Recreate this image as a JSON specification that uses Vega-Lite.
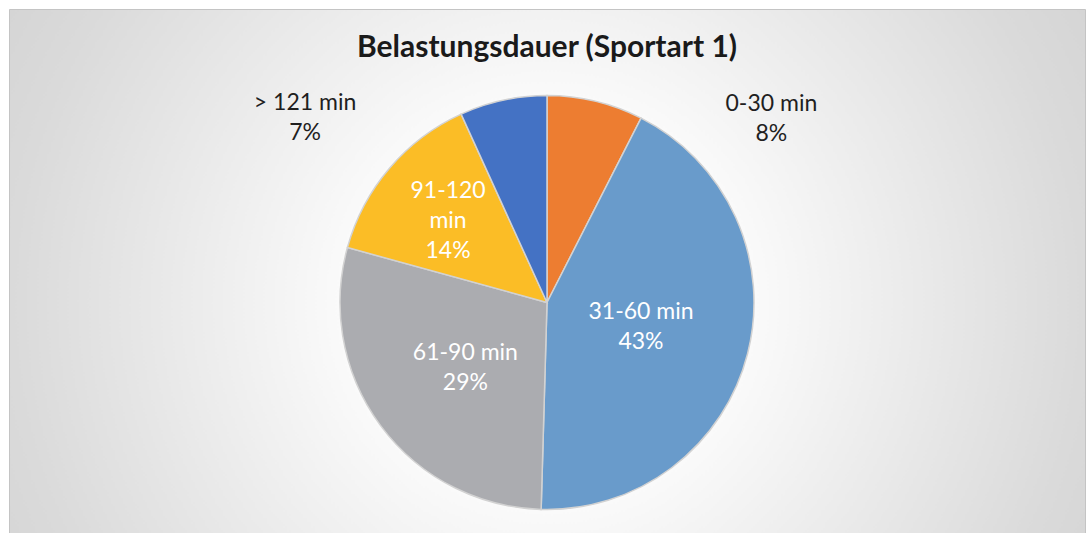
{
  "$schema": "https://vega.github.io/schema/vega-lite/v6.json",
  "autosize": {"type": "fit", "contains": "padding"},
  "width": 1088,
  "height": 533,
  "padding": {"left": 9, "top": 9, "right": 3, "bottom": -63},
  "background": "#ffffff",
  "view": {
    "stroke": "#c4c4c4",
    "strokeWidth": 1,
    "fill": {
      "gradient": "radial",
      "x1": 0.5, "y1": 0.5, "r1": 0,
      "x2": 0.5, "y2": 0.5, "r2": 0.71,
      "stops": [
        {"offset": 0, "color": "#ffffff"},
        {"offset": 0.2, "color": "#ffffff"},
        {"offset": 0.7, "color": "#dadada"},
        {"offset": 1, "color": "#cbcbcb"}
      ]
    }
  },
  "title": {
    "text": "Belastungsdauer (Sportart 1)",
    "font": "Lato",
    "fontSize": 30,
    "fontWeight": "bold",
    "color": "#1a1a1a",
    "anchor": "middle",
    "baseline": "alphabetic",
    "offset": -78
  },
  "data": {
    "values": [
      {"dauer": "0-30 min", "anteil": 7.5, "label": "0-30 min\n8%", "ord": 1},
      {"dauer": "31-60 min", "anteil": 42.9, "label": "31-60 min\n43%", "ord": 2},
      {"dauer": "61-90 min", "anteil": 28.8, "label": "61-90 min\n29%", "ord": 3},
      {"dauer": "91-120 min", "anteil": 13.9, "label": "91-120\nmin\n14%", "ord": 4},
      {"dauer": "> 121 min", "anteil": 6.8, "label": "> 121 min\n7%", "ord": 5}
    ]
  },
  "encoding": {
    "theta": {"field": "anteil", "type": "quantitative", "stack": true},
    "order": {"field": "ord", "type": "quantitative"}
  },
  "layer": [
    {
      "mark": {"type": "arc", "outerRadius": 207, "stroke": "#d2d2d2", "strokeWidth": 1.5},
      "encoding": {
        "color": {
          "field": "dauer",
          "type": "nominal",
          "scale": {
            "domain": ["0-30 min", "31-60 min", "61-90 min", "91-120 min", "> 121 min"],
            "range": ["#ED7D31", "#699BCB", "#ABACB0", "#FBBD26", "#4472C4"]
          },
          "legend": null
        }
      }
    },
    {
      "mark": {"type": "text", "radius": 97, "dy": -14, "font": "Lato", "fontSize": 23, "color": "#ffffff", "lineBreak": "\n", "lineHeight": 30, "align": "center", "baseline": "middle"},
      "encoding": {"text": {"condition": {"test": "datum.ord == 2", "field": "label", "type": "nominal"}, "value": ""}}
    },
    {
      "mark": {"type": "text", "radius": 99, "dy": -8, "dx": -2, "font": "Lato", "fontSize": 23, "color": "#ffffff", "lineBreak": "\n", "lineHeight": 30, "align": "center", "baseline": "middle"},
      "encoding": {"text": {"condition": {"test": "datum.ord == 3", "field": "label", "type": "nominal"}, "value": ""}}
    },
    {
      "mark": {"type": "text", "radius": 130, "dy": -27, "font": "Lato", "fontSize": 23, "color": "#ffffff", "lineBreak": "\n", "lineHeight": 30, "align": "center", "baseline": "middle"},
      "encoding": {"text": {"condition": {"test": "datum.ord == 4", "field": "label", "type": "nominal"}, "value": ""}}
    },
    {
      "mark": {"type": "text", "radius": 207, "dx": 176, "dy": 3, "font": "Lato", "fontSize": 23, "color": "#1f1f1f", "lineBreak": "\n", "lineHeight": 30, "align": "center", "baseline": "middle"},
      "encoding": {"text": {"condition": {"test": "datum.ord == 1", "field": "label", "type": "nominal"}, "value": ""}}
    },
    {
      "mark": {"type": "text", "radius": 207, "dx": -198, "dy": 3, "font": "Lato", "fontSize": 23, "color": "#1f1f1f", "lineBreak": "\n", "lineHeight": 30, "align": "center", "baseline": "middle"},
      "encoding": {"text": {"condition": {"test": "datum.ord == 5", "field": "label", "type": "nominal"}, "value": ""}}
    }
  ]
}
